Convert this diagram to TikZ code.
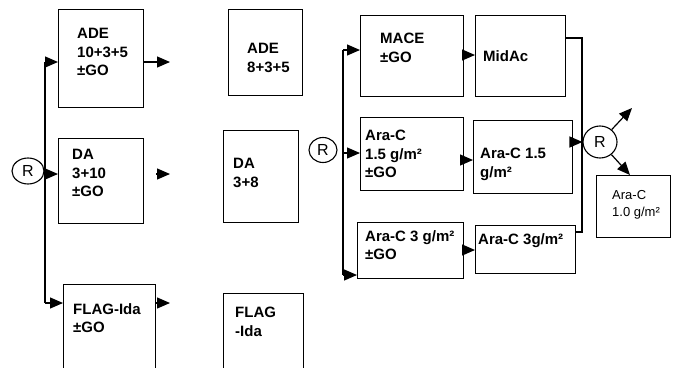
\documentclass[tikz,border=0pt]{standalone}
\usepackage{fontspec}
\setmainfont{Liberation Sans}
\usetikzlibrary{arrows.meta,shapes.geometric}
\begin{document}
\begin{tikzpicture}[x=1pt,y=-1pt,
  box/.style={draw,line width=1.2pt,anchor=north west,inner sep=0pt},
  txt/.style={anchor=north west,inner sep=0pt,align=left,font=\bfseries\fontsize{15}{18.5}\selectfont},
  txtr/.style={anchor=north west,inner sep=0pt,align=left,font=\fontsize{13}{17}\selectfont},
  rnode/.style={draw,ellipse,line width=1.1pt,inner sep=0pt,font=\fontsize{16}{16}\selectfont},
  conn/.style={line width=1.2pt},
  arr/.style={line width=1.2pt,-{Triangle[length=13pt,width=11pt]}}]
\useasboundingbox (0,0) rectangle (679,367);
% left column boxes
\node[box,minimum width=85pt,minimum height=98pt] (ade1) at (58,9) {};
\node[box,minimum width=85pt,minimum height=85pt] (da1) at (58,138) {};
\node[box,minimum width=92pt,minimum height=86pt] (flag1) at (63,284) {};
\node[txt] (ade1T) at (77,28) {ADE\\10+3+5\\±GO};
\node[txt] (da1T) at (72,149) {DA\\3+10\\±GO};
\node[txt] (flag1T) at (73,303) {FLAG-Ida\\±GO};
% middle column boxes
\node[box,minimum width=74pt,minimum height=86pt] (ade2) at (228,9) {};
\node[box,minimum width=75pt,minimum height=92pt] (da2) at (223,130) {};
\node[box,minimum width=80pt,minimum height=77pt] (flag2) at (223,293) {};
\node[txt] (ade2T) at (247,43) {ADE\\8+3+5};
\node[txt] (da2T) at (233,158) {DA\\3+8};
\node[txt] (flag2T) at (235,307) {FLAG\\-Ida};
% right boxes
\node[box,minimum width=103pt,minimum height=81pt] (mace) at (360,15) {};
\node[box,minimum width=90pt,minimum height=81pt] (midac) at (475,15) {};
\node[box,minimum width=103pt,minimum height=73pt] (araA) at (360,117) {};
\node[box,minimum width=99pt,minimum height=73pt] (araB) at (473,120) {};
\node[box,minimum width=106pt,minimum height=56pt] (arc3A) at (357,222) {};
\node[box,minimum width=100pt,minimum height=48pt] (arc3B) at (475,225) {};
\node[box,minimum width=74pt,minimum height=62pt] (ara10) at (596,175) {};
\node[txt] (maceT) at (380,33) {MACE\\±GO};
\node[txt] (midacT) at (483,50) {MidAc};
\node[txt] (araAT) at (365,130) {Ara-C\\1.5 g/m²\\±GO};
\node[txt] (araBT) at (480,148) {Ara-C 1.5\\g/m²};
\node[txt] (arc3AT) at (365,230) {Ara-C 3 g/m²\\±GO};
\node[txt] (arc3BT) at (478,233) {Ara-C 3g/m²};
\node[txtr] (ara10T) at (612,190) {Ara-C\\1.0 g/m²};
% R nodes
\node[rnode,minimum width=32pt,minimum height=26pt] (R1) at (28,171) {R};
\node[rnode,minimum width=28pt,minimum height=25pt] (R2) at (323,150) {R};
\node[rnode,minimum width=34pt,minimum height=32pt] (R3) at (600,142) {R};
% left randomisation
\coordinate (l1) at (45,62);
\coordinate (l2) at (45,174);
\coordinate (l3) at (45,303);
\draw[conn] (l1) -- (l3);
\draw[arr] (l1) -- (l1 -| ade1.west);
\draw[arr] (l2) -- (l2 -| da1.west);
\draw[arr] (l3) -- (l3 -| flag1.west);
% left outgoing arrows
\coordinate (o1) at (170,62);
\coordinate (o2s) at (156,174);
\coordinate (o2) at (170,174);
\coordinate (o3) at (170,303);
\draw[arr] (o1 -| ade1.east) -- (o1);
\draw[arr] (o2s) -- (o2);
\draw[arr] (o3 -| flag1.east) -- (o3);
% middle randomisation
\coordinate (m1) at (343,50);
\coordinate (m2) at (343,153);
\coordinate (m3) at (343,275);
\draw[conn] (m1) -- (m3);
\draw[arr] (m1) -- (m1 -| mace.west);
\draw[arr] (m2) -- (m2 -| araA.west);
\draw[arr] (m3) -- (m3 -| arc3A.west);
% consolidation arrows
\coordinate (c1) at (463,55);
\coordinate (c2) at (463,160);
\coordinate (c3) at (463,250);
\draw[arr] (c1) -- (c1 -| midac.west);
\draw[arr] (c2) -- (c2 -| araB.west);
\draw[arr] (c3) -- (c3 -| arc3B.west);
% right bracket
\coordinate (b1) at (565,38);
\coordinate (b2) at (582,38);
\coordinate (b3) at (582,232);
\draw[conn] (b1 -| midac.east) -- (b2) -- (b3) -- (b3 -| arc3B.east);
% into R3
\coordinate (r3in) at (572,142);
\draw[arr] (r3in -| araB.east) -- (R3.west);
% out of R3
\coordinate (up) at (632,108);
\coordinate (dn) at (630,175);
\draw[arr] (R3) -- (up);
\draw[arr] (R3) -- (dn);
\end{tikzpicture}
\end{document}
